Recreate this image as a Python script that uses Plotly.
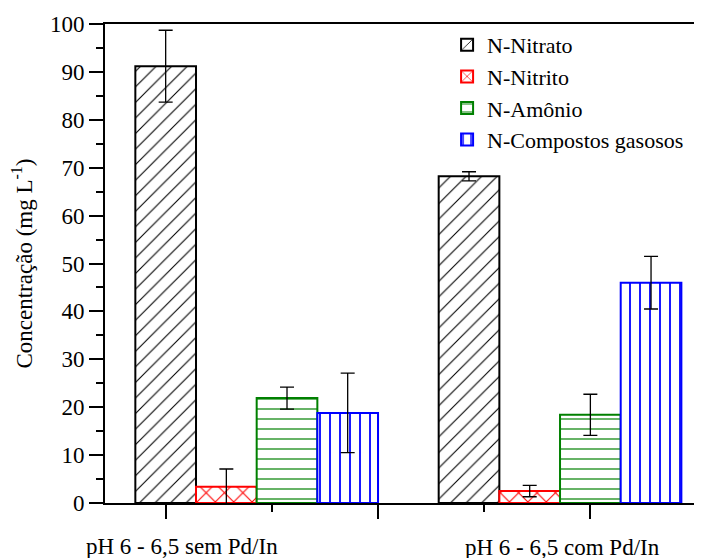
import plotly.graph_objects as go

groups = ["pH 6 - 6,5 sem Pd/In", "pH 6 - 6,5 com Pd/In"]
group_pos = [1, 2]
series = ["N-Nitrato", "N-Nitrito", "N-Amônio", "N-Compostos gasosos"]
nitrato = [91.2, 68.2]
nitrato_err = [7.5, 0.95]
nitrito = [3.4, 2.5]
nitrito_err = [3.7, 1.2]
amonio = [21.9, 18.4]
amonio_err = [2.3, 4.3]
gasosos = [18.8, 46.0]
gasosos_err = [8.3, 5.5]

values = [nitrato, nitrito, amonio, gasosos]
errors = [nitrato_err, nitrito_err, amonio_err, gasosos_err]
colors = ["#000000", "#ff0000", "#008000", "#0000ff"]
shapes = ["/", "x", "-", "|"]
psizes = [11, 13, 10, 10]
solid = [0.1, 0.16, 0.12, 0.18]
offsets = [-0.3, -0.1, 0.1, 0.3]

FONT = "Liberation Serif"
fig = go.Figure()
for name, v, e, c, sh, ps, so, off in zip(series, values, errors, colors, shapes, psizes, solid, offsets):
    fig.add_trace(go.Bar(
        name=name,
        x=[g + off for g in group_pos],
        y=v,
        width=0.2,
        marker=dict(color="white",
                    line=dict(color=c, width=2),
                    pattern=dict(shape=sh, fgcolor=c, bgcolor="white",
                                 size=ps, solidity=so, fillmode="replace")),
        error_y=dict(type="data", array=e, visible=True, color="#000000",
                     thickness=1.3, width=7),
    ))

fig.update_layout(
    width=702, height=558,
    margin=dict(l=97, r=8, t=16, b=63, autoexpand=False),
    paper_bgcolor="white", plot_bgcolor="white",
    barmode="overlay",
    showlegend=True,
    font=dict(family=FONT, size=23, color="black"),
    legend=dict(x=0.573, y=1.0, xanchor="left", yanchor="top",
                bgcolor="rgba(0,0,0,0)", font=dict(family=FONT, size=22),
                tracegroupgap=0, itemwidth=30),
    xaxis=dict(range=[0.5, 2.468], showgrid=False, zeroline=False, automargin=False,
               showline=True, linecolor="black", linewidth=2, mirror=True,
               ticks="outside", ticklen=14, tickwidth=2, tickcolor="black",
               tick0=0, dtick=0.7, showticklabels=False,
               minor=dict(ticks="outside", ticklen=7, tickwidth=2,
                          tickcolor="black", dtick=0.35, tick0=0, showgrid=False)),
    yaxis=dict(range=[0, 100], showgrid=False, zeroline=False, automargin=False,
               showline=True, linecolor="black", linewidth=2,
               ticks="outside", ticklen=14, tickwidth=2, tickcolor="black",
               tick0=0, dtick=10,
               tickfont=dict(family=FONT, size=23),
               minor=dict(ticks="outside", ticklen=7, tickwidth=2,
                          tickcolor="black", dtick=5, showgrid=False),
               title=dict(text="Concentração (mg L<sup>-1</sup>)",
                          font=dict(family=FONT, size=23))),
)

label_x = [0.754, 2.007]
label_shift = [-29, -30]
for g, lx, ys in zip(groups, label_x, label_shift):
    fig.add_annotation(text=g, x=lx, xref="x", y=0, yref="paper",
                       yanchor="top", xanchor="center", yshift=ys,
                       showarrow=False, font=dict(family=FONT, size=23))

fig.write_html("out.html")
